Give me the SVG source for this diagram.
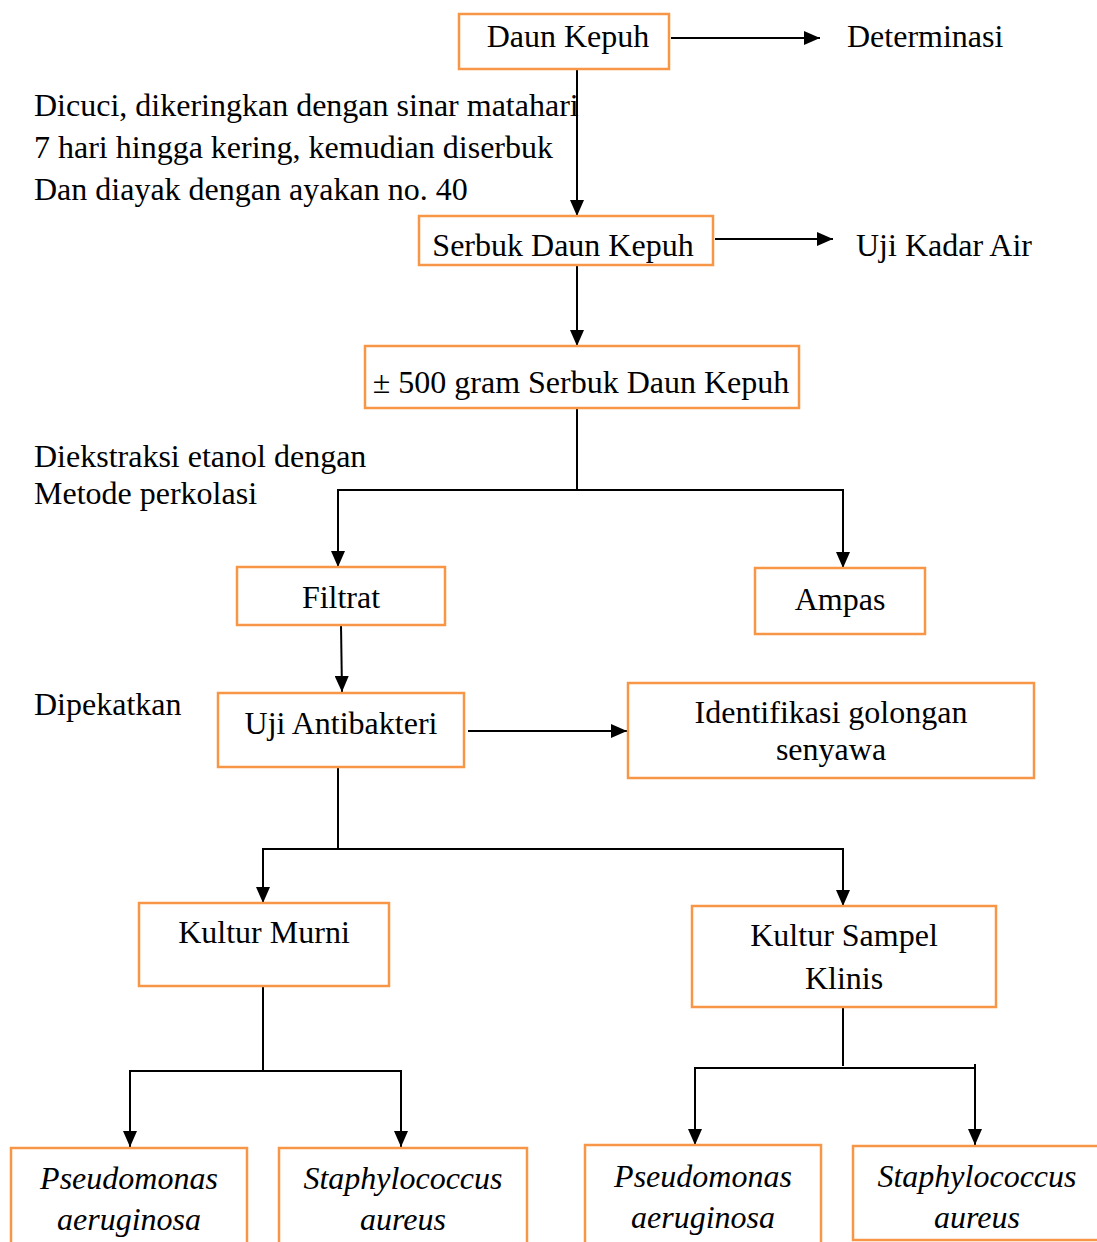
<svg xmlns="http://www.w3.org/2000/svg" width="1097" height="1242" viewBox="0 0 1097 1242">
<style>
.box{fill:#fff;stroke:#F79646;stroke-width:2.5}
.t{font-family:"Liberation Serif","Times New Roman",serif;font-size:32px;fill:#000}
.c{text-anchor:middle}
.i{font-style:italic}
.ln{fill:none;stroke:#000;stroke-width:2}
</style>
<defs>
<marker id="ah" markerUnits="userSpaceOnUse" markerWidth="16" markerHeight="14" viewBox="0 0 16 14" refX="16" refY="7" orient="auto">
<path d="M0,0 L16,7 L0,14 Z" fill="#000"/>
</marker>
</defs>
<rect width="1097" height="1242" fill="#fff"/>
<g id="connectors">
<line class="ln" x1="671" y1="38" x2="820" y2="38" marker-end="url(#ah)"/>
<line class="ln" x1="577" y1="69" x2="577" y2="216" marker-end="url(#ah)"/>
<line class="ln" x1="715" y1="239" x2="833" y2="239" marker-end="url(#ah)"/>
<line class="ln" x1="577" y1="265" x2="577" y2="346" marker-end="url(#ah)"/>
<line class="ln" x1="577" y1="408" x2="577" y2="490"/>
<line class="ln" x1="337" y1="490" x2="844" y2="490"/>
<line class="ln" x1="338" y1="490" x2="338" y2="567" marker-end="url(#ah)"/>
<line class="ln" x1="843" y1="490" x2="843" y2="568" marker-end="url(#ah)"/>
<line class="ln" x1="341" y1="625" x2="342" y2="692" marker-end="url(#ah)"/>
<line class="ln" x1="468" y1="731" x2="627" y2="731" marker-end="url(#ah)"/>
<line class="ln" x1="338" y1="767" x2="338" y2="849"/>
<line class="ln" x1="262" y1="849" x2="844" y2="849"/>
<line class="ln" x1="263" y1="849" x2="263" y2="903" marker-end="url(#ah)"/>
<line class="ln" x1="843" y1="849" x2="843" y2="906" marker-end="url(#ah)"/>
<line class="ln" x1="263" y1="986" x2="263" y2="1071"/>
<line class="ln" x1="129" y1="1071" x2="402" y2="1071"/>
<line class="ln" x1="130" y1="1071" x2="130" y2="1147" marker-end="url(#ah)"/>
<line class="ln" x1="401" y1="1071" x2="401" y2="1147" marker-end="url(#ah)"/>
<line class="ln" x1="843" y1="1007" x2="843" y2="1066"/>
<line class="ln" x1="694" y1="1068" x2="976" y2="1068"/>
<line class="ln" x1="695" y1="1068" x2="695" y2="1145" marker-end="url(#ah)"/>
<line class="ln" x1="975" y1="1064" x2="975" y2="1145" marker-end="url(#ah)"/>
</g>
<g id="daun-kepuh"><rect class="box" x="459" y="14" width="210" height="55"/><text class="t c" x="568" y="47">Daun Kepuh</text></g>
<g id="determinasi"><text class="t" x="847" y="47">Determinasi</text></g>
<g id="note1">
<text class="t" x="34" y="116">Dicuci, dikeringkan dengan sinar matahari</text>
<text class="t" x="34" y="158">7 hari hingga kering, kemudian diserbuk</text>
<text class="t" x="34" y="200">Dan diayak dengan ayakan no. 40</text>
</g>
<g id="serbuk"><rect class="box" x="419" y="216" width="294" height="49"/><text class="t c" x="563" y="256">Serbuk Daun Kepuh</text></g>
<g id="uji-kadar-air"><text class="t" x="856" y="256">Uji Kadar Air</text></g>
<g id="serbuk500"><rect class="box" x="365" y="346" width="434" height="62"/><text class="t c" x="581" y="393">± 500 gram Serbuk Daun Kepuh</text></g>
<g id="note2">
<text class="t" x="34" y="467">Diekstraksi etanol dengan</text>
<text class="t" x="34" y="504">Metode perkolasi</text>
</g>
<g id="filtrat"><rect class="box" x="237" y="567" width="208" height="58"/><text class="t c" x="341" y="608">Filtrat</text></g>
<g id="ampas"><rect class="box" x="755" y="568" width="170" height="66"/><text class="t c" x="840" y="610">Ampas</text></g>
<g id="note3"><text class="t" x="34" y="715">Dipekatkan</text></g>
<g id="uji-antibakteri"><rect class="box" x="218" y="693" width="246" height="74"/><text class="t c" x="341" y="734">Uji Antibakteri</text></g>
<g id="identifikasi"><rect class="box" x="628" y="683" width="406" height="95"/><text class="t c" x="831" y="723">Identifikasi golongan</text><text class="t c" x="831" y="760">senyawa</text></g>
<g id="kultur-murni"><rect class="box" x="139" y="903" width="250" height="83"/><text class="t c" x="264" y="943">Kultur Murni</text></g>
<g id="kultur-sampel"><rect class="box" x="692" y="906" width="304" height="101"/><text class="t c" x="844" y="946">Kultur Sampel</text><text class="t c" x="844" y="989">Klinis</text></g>
<g id="pa1"><rect class="box" x="11" y="1148" width="236" height="100"/><text class="t c i" x="129" y="1189">Pseudomonas</text><text class="t c i" x="129" y="1230">aeruginosa</text></g>
<g id="sa1"><rect class="box" x="279" y="1148" width="248" height="100"/><text class="t c i" x="403" y="1189">Staphylococcus</text><text class="t c i" x="403" y="1230">aureus</text></g>
<g id="pa2"><rect class="box" x="585" y="1145" width="236" height="103"/><text class="t c i" x="703" y="1187">Pseudomonas</text><text class="t c i" x="703" y="1228">aeruginosa</text></g>
<g id="sa2"><rect class="box" x="853" y="1146" width="250" height="94"/><text class="t c i" x="977" y="1187">Staphylococcus</text><text class="t c i" x="977" y="1228">aureus</text></g>
</svg>
